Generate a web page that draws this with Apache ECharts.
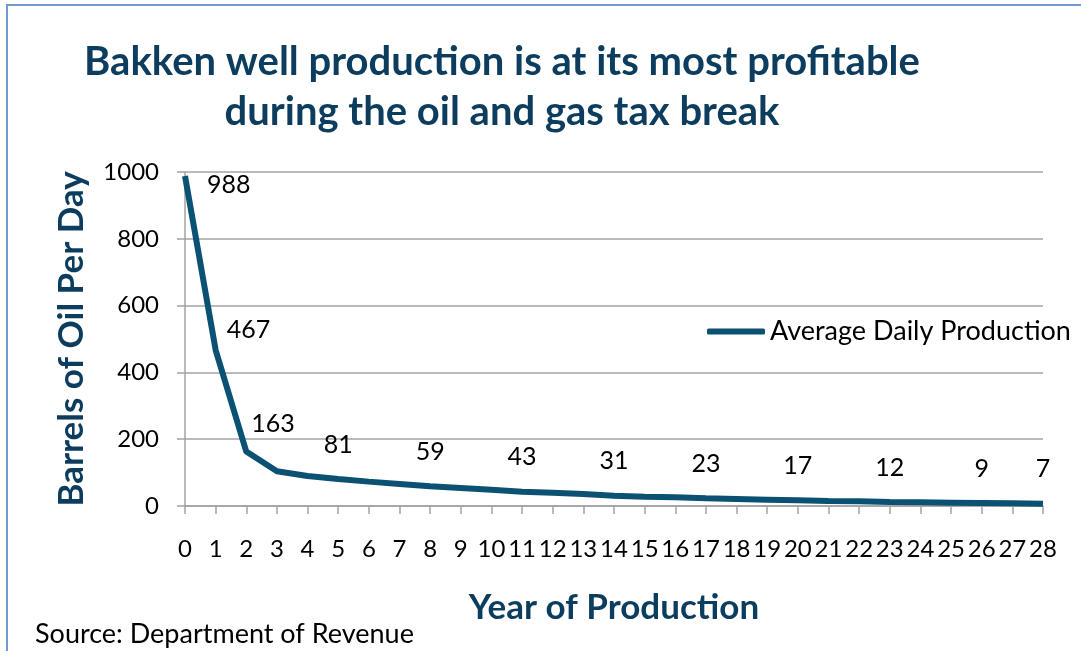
<!DOCTYPE html>
<html>
<head>
<meta charset="utf-8">
<script src="https://cdn.jsdelivr.net/npm/echarts@6/dist/echarts.min.js"></script>
<style>
  html, body { margin: 0; padding: 0; background: #fff; }
  #chart { width: 1081px; height: 651px; }
</style>
</head>
<body>
<div id="chart"></div>
<script>
// data
const years = ['0', '1', '2', '3', '4', '5', '6', '7', '8', '9', '10', '11', '12', '13', '14',
  '15', '16', '17', '18', '19', '20', '21', '22', '23', '24', '25', '26', '27', '28']
const production = [988, 467, 163, 104, 90, 81, 73, 66, 59, 54, 49, 43, 40, 36, 31,
  28, 26, 23, 21, 19, 17, 15, 14, 12, 11, 10, 9, 8, 7]
// years that carry a value label
const labelledYears = ['0', '1', '2', '5', '8', '11', '14', '17', '20', '23', '26', '28']
const yTicks = [0, 200, 400, 600, 800, 1000]

const FONT = 'Lato, "Open Sans", sans-serif'
const NAVY = '#0d3d5e'
const LINE = '#0b5173'
const GRID = '#a3a3a3'

// the first three labels sit to the right of the point, the rest above
const labelNudge = {
  '0': { position: 'right', offset: [0, 9] },
  '1': { position: 'right', offset: [-11, -20] },
  '2': { position: 'right', offset: [-17, -28] }
}

const seriesData = production.map((v, i) => {
  const yr = years[i]
  const item = { value: v }
  if (!labelledYears.includes(yr)) {
    item.label = { show: false }
  } else if (labelNudge[yr]) {
    item.label = { show: true, ...labelNudge[yr] }
  }
  return item
})

const chart = echarts.init(document.getElementById('chart'))

const option = {
  animation: false,
  title: {
    text: 'Bakken well production is at its most profitable\nduring the oil and gas tax break',
    left: 497,
    top: 32,
    textAlign: 'center',
    textStyle: {
      fontFamily: FONT,
      fontWeight: 'bold',
      fontSize: 40,
      lineHeight: 50,
      color: NAVY
    }
  },
  legend: {
    left: 702,
    top: 313,
    itemWidth: 58,
    itemHeight: 6,
    itemGap: 10,
    icon: 'roundRect',
    textStyle: { fontFamily: FONT, fontSize: 27, color: '#000' },
    data: ['Average Daily Production']
  },
  grid: {
    left: 185,
    right: 38,
    top: 172,
    bottom: 145,
    containLabel: false
  },
  xAxis: {
    type: 'category',
    data: years,
    boundaryGap: false,
    name: 'Year of Production',
    nameLocation: 'middle',
    nameGap: 84,
    nameTextStyle: { fontFamily: FONT, fontWeight: 'bold', fontSize: 35, color: NAVY },
    axisLine: { lineStyle: { color: GRID, width: 1.5 } },
    axisTick: { show: true, length: 8, interval: 0, alignWithLabel: true, lineStyle: { color: GRID, width: 1.5 } },
    axisLabel: { interval: 0, margin: 31, fontFamily: FONT, fontSize: 24, color: '#000', hideOverlap: false },
    splitLine: { show: false }
  },
  yAxis: {
    type: 'value',
    min: 0,
    max: yTicks[yTicks.length - 1],
    interval: 200,
    name: 'Barrels of Oil Per Day',
    nameLocation: 'middle',
    nameGap: 96,
    nameRotate: 90,
    nameTextStyle: { fontFamily: FONT, fontWeight: 'bold', fontSize: 35, color: NAVY },
    axisLine: { show: true, lineStyle: { color: GRID, width: 1.5 } },
    axisTick: { show: true, length: 8, lineStyle: { color: GRID, width: 1.5 } },
    axisLabel: { margin: 26, fontFamily: FONT, fontSize: 24, color: '#000', formatter: v => String(v) },
    splitLine: { lineStyle: { color: GRID, width: 1.5 } }
  },
  series: [
    {
      name: 'Average Daily Production',
      type: 'line',
      data: seriesData,
      symbol: 'circle',
      symbolSize: 0,
      showSymbol: true,
      color: LINE,
      lineStyle: { color: LINE, width: 6 },
      label: {
        show: true,
        position: 'top',
        distance: 22,
        fontFamily: FONT,
        fontSize: 25,
        color: '#000'
      }
    }
  ],
  graphic: [
    {
      type: 'rect',
      shape: { x: 7, y: 5, width: 1200, height: 800 },
      style: { fill: 'none', stroke: '#6f9bd1', lineWidth: 2 },
      silent: true
    },
    {
      type: 'text',
      left: 35,
      top: 621,
      style: { text: 'Source: Department of Revenue', fontFamily: FONT, fontSize: 27, fill: '#000' }
    }
  ]
}

chart.setOption(option)
</script>
</body>
</html>
